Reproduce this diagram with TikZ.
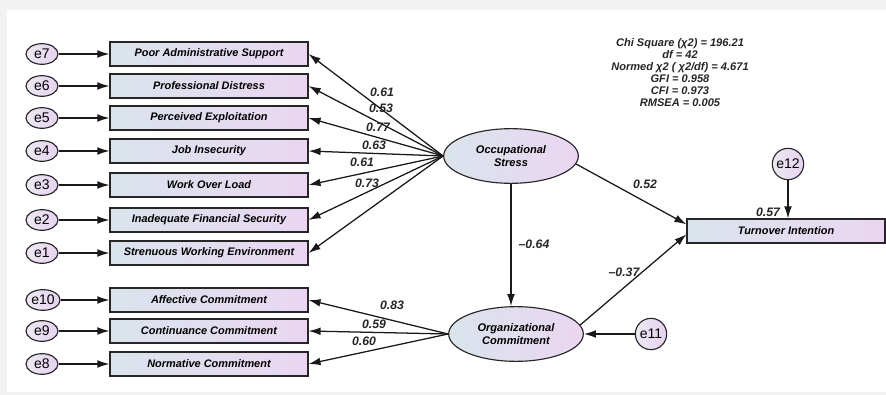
\documentclass[tikz,border=0pt]{standalone}
\usepackage{fontspec}
\setmainfont{Liberation Sans}
\usetikzlibrary{arrows.meta,shapes.geometric,calc}
\definecolor{boxL}{RGB}{218,228,236}
\definecolor{boxR}{RGB}{234,214,242}
\definecolor{errL}{RGB}{236,232,242}
\definecolor{errR}{RGB}{230,210,240}
\begin{document}
\begin{tikzpicture}[x=0.75pt,y=-0.75pt,
  arr/.style={-{Latex[length=9pt,width=5.8pt]}, line width=0.95pt, black!90},
  obs/.style={rectangle, draw=black!85, line width=0.85pt, minimum width=148.5pt, minimum height=18pt, inner sep=0pt, left color=boxL, right color=boxR, font=\fontsize{8.2}{9}\selectfont\bfseries\itshape},
  err/.style={ellipse, draw=black!85, line width=0.85pt, minimum width=24pt, minimum height=15.5pt, inner sep=0.3pt, left color=errL, right color=errR, font=\fontsize{10.5}{11}\selectfont},
  errc/.style={circle, draw=black!85, line width=0.85pt, minimum size=23.5pt, inner sep=0pt, left color=errL, right color=errR, font=\fontsize{10.5}{11}\selectfont},
  lat/.style={ellipse, draw=black!85, line width=0.85pt, minimum width=101pt, minimum height=41pt, inner sep=0pt, left color=boxL, right color=boxR, align=center, font=\fontsize{8.3}{9.5}\selectfont\bfseries\itshape},
  lab/.style={font=\fontsize{9.2}{10}\selectfont\bfseries\itshape, text=black!85, inner sep=0pt}]
\useasboundingbox (0,0) rectangle (886,395);
\fill[black!5] (0,0) rectangle (886,395);
\fill[white] (7,10) rectangle (886,392);

% observed indicators of Occupational Stress
\node[obs] (b7) at (209,54) {Poor Administrative Support};
\node[obs] (b6) at (209,86) {Professional Distress};
\node[obs] (b5) at (209,118) {Perceived Exploitation};
\node[obs] (b4) at (209,151) {Job Insecurity};
\node[obs] (b3) at (209,185) {Work Over Load};
\node[obs] (b2) at (209,220) {Inadequate Financial Security};
\node[obs] (b1) at (209,253) {Strenuous Working Environment};
% observed indicators of Organizational Commitment
\node[obs] (b10) at (209,300) {Affective Commitment};
\node[obs] (b9) at (209,331) {Continuance Commitment};
\node[obs] (b8) at (209,364) {Normative Commitment};
% outcome
\node[obs] (ti) at (786,231) {Turnover Intention};

% error terms
\node[err] (e7) at (42,54) {e7};
\node[err] (e6) at (42,86) {e6};
\node[err] (e5) at (42,118) {e5};
\node[err] (e4) at (42,151) {e4};
\node[err] (e3) at (42,185) {e3};
\node[err] (e2) at (42,220) {e2};
\node[err] (e1) at (42,253) {e1};
\node[err] (e10) at (43,300) {e10};
\node[err] (e9) at (42,331) {e9};
\node[err] (e8) at (42,364) {e8};
\node[errc] (e11) at (651,334) {e11};
\node[errc] (e12) at (788,164) {e12};

% latent variables
\node[lat] (os) at (511,156) {Occupational\\Stress};
\node[lat] (oc) at (516,334) {Organizational\\Commitment};

% error arrows
\foreach \i in {1,...,10} \draw[arr] (e\i) -- (b\i);
\draw[arr] (e11) -- (oc);
\draw[arr] (e12) -- (e12 |- ti.north);

% loadings
\foreach \i in {1,...,7} \draw[arr] (os.west) -- (b\i.east);
\foreach \i in {8,9,10} \draw[arr] (oc.west) -- (b\i.east);

% structural paths
\draw[arr] (os.south) -- (os.south |- oc.north);
\draw[arr] (os.-7) -- ([yshift=5pt]ti.west);
\draw[arr] (oc.8) -- ([yshift=-2.5pt]ti.west);

% labels
\node[lab] (l7) at (382,92) {0.61};
\node[lab] (l6) at (381,108) {0.53};
\node[lab] (l5) at (378,127) {0.77};
\node[lab] (l4) at (374,145) {0.63};
\node[lab] (l3) at (362,162) {0.61};
\node[lab] (l2) at (367,183) {0.73};
\node[lab] (l10) at (392,305) {0.83};
\node[lab] (l9) at (374,324) {0.59};
\node[lab] (l8) at (364,341) {0.60};
\node[lab] (lso) at (534,244) {–0.64};
\node[lab] (lot) at (624,272) {–0.37};
\node[lab] (lst) at (645,184) {0.52};
\node[lab] (lti) at (768,212) {0.57};

% fit statistics
\node[align=center, inner sep=0pt, font=\fontsize{8.3}{8.9}\selectfont\bfseries\itshape, text=black!85] (fit) at (680,72.5)
  {Chi Square (χ2) = 196.21\\df = 42\\Normed χ2 ( χ2/df) = 4.671\\GFI = 0.958\\CFI = 0.973\\RMSEA = 0.005};
\end{tikzpicture}
\end{document}
